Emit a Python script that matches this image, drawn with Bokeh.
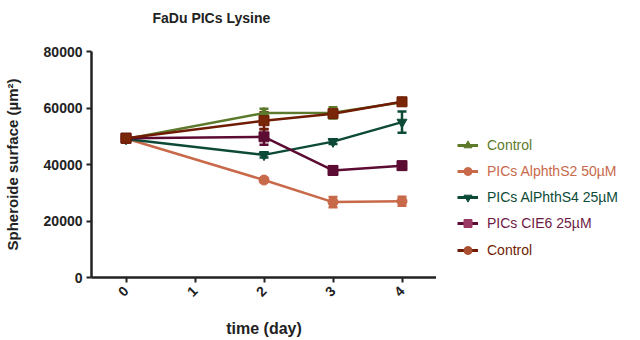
import math
from bokeh.plotting import figure
from bokeh.layouts import row, column
from bokeh.models import (ColumnDataSource, Range1d, FixedTicker, Whisker, TeeHead,
                          Legend, LegendItem, Label)
from bokeh.embed import file_html
from bokeh.resources import INLINE

# ---- data ----
days = [0, 2, 3, 4]
x_ticks = [0, 1, 2, 3, 4]
y_ticks = [0, 20000, 40000, 60000, 80000]

series_names = ["Control", "PICs AlphthS2 50\u00b5M", "PICs AlPhthS4 25\u00b5M",
                "PICs CIE6 25\u00b5M", "Control"]
control_a = [49000, 58200, 58300, 62000]
control_a_err = [800, 1500, 2000, 1000]
alphths2 = [49200, 34500, 26700, 27000]
alphths2_err = [600, 700, 1800, 1600]
alphths4 = [49000, 43400, 48100, 55000]
alphths4_err = [500, 900, 800, 3800]
cie6 = [49300, 49800, 37900, 39600]
cie6_err = [500, 2800, 1500, 1300]
control_b = [49300, 55500, 58000, 62200]
control_b_err = [800, 3000, 1000, 800]

values = [control_a, alphths2, alphths4, cie6, control_b]
errors = [control_a_err, alphths2_err, alphths4_err, cie6_err, control_b_err]

line_colors = ["#5d7a2c", "#c8694a", "#0c4a37", "#5c0c32", "#701c04"]
marker_fill = ["#5d7a2c", "#c8694a", "#0c4a37", "#5c0c32", "#7a2608"]
legend_fill = ["#5d7a2c", "#c8694a", "#0c4a37", "#9a3a62", "#a8502f"]
text_colors = ["#5d7a2c", "#c8694a", "#0c4a37", "#6e1a44", "#701c04"]
plot_markers = ["triangle", "circle", "inverted_triangle", "square", "square"]
legend_markers = ["triangle", "circle", "inverted_triangle", "square", "circle"]

FONT = "Liberation Sans"
TITLE_H = 34

# title strip
tf = figure(width=640, height=TITLE_H, output_backend="svg", toolbar_location=None,
            x_range=Range1d(0, 640), y_range=Range1d(0, TITLE_H),
            x_axis_type=None, y_axis_type=None,
            min_border_left=0, min_border_right=0, min_border_top=0,
            min_border_bottom=0)
tf.outline_line_color = None
tf.grid.visible = False
tf.add_layout(Label(x=152, y=TITLE_H - 17, text="FaDu PICs Lysine",
                    text_font=FONT, text_font_style="bold", text_font_size="14px",
                    text_color="#222222", text_baseline="middle",
                    text_align="left"))

p = figure(width=436, height=340 - TITLE_H, output_backend="svg",
           toolbar_location=None,
           x_range=Range1d(-0.5, 4.5), y_range=Range1d(0, 80000),
           min_border_left=91, min_border_right=0, min_border_top=51 - TITLE_H,
           min_border_bottom=61)
p.outline_line_color = None
p.grid.visible = False

for ax in (p.xaxis[0], p.yaxis[0]):
    ax.axis_line_width = 2.5
    ax.axis_line_color = "#222222"
    ax.major_tick_line_width = 2
    ax.major_tick_line_color = "#222222"
    ax.major_tick_out = 5
    ax.major_tick_in = 0
    ax.minor_tick_line_color = None
    ax.major_label_text_font = FONT
    ax.major_label_text_font_style = "bold"
    ax.major_label_text_font_size = "14px"
    ax.major_label_text_color = "#222222"
    ax.axis_label_text_font = FONT
    ax.axis_label_text_font_style = "bold"
    ax.axis_label_text_color = "#222222"

p.xaxis.axis_label_text_font_size = "16px"
p.yaxis.axis_label_text_font_size = "15px"
p.xaxis.ticker = FixedTicker(ticks=x_ticks)
p.yaxis.ticker = FixedTicker(ticks=y_ticks)
p.xaxis.major_label_orientation = math.pi / 4
p.xaxis.major_label_standoff = 6
p.yaxis.major_label_standoff = 4
p.xaxis.axis_label = "time (day)"
p.yaxis.axis_label = "Spheroide surface (\u00b5m\u00b2)"
p.xaxis.axis_label_standoff = 16
p.yaxis.axis_label_standoff = 20

# legend-only figure on the right
lf = figure(width=204, height=340 - TITLE_H, output_backend="svg",
            toolbar_location=None,
            x_range=Range1d(0, 1), y_range=Range1d(0, 1),
            x_axis_type=None, y_axis_type=None,
            min_border_left=0, min_border_right=0, min_border_top=0,
            min_border_bottom=0)
lf.outline_line_color = None
lf.grid.visible = False

nan = float("nan")
for i in range(5):
    src = ColumnDataSource(dict(x=days, y=values[i],
                                lo=[v - e for v, e in zip(values[i], errors[i])],
                                hi=[v + e for v, e in zip(values[i], errors[i])]))
    p.line("x", "y", source=src, line_color=line_colors[i], line_width=2.5)
    w = Whisker(base="x", lower="lo", upper="hi", source=src,
                line_color=line_colors[i], line_width=2.5,
                upper_head=TeeHead(size=9, line_color=line_colors[i], line_width=2.5),
                lower_head=TeeHead(size=9, line_color=line_colors[i], line_width=2.5))
    p.add_layout(w)
    p.scatter("x", "y", source=src, marker=plot_markers[i], size=10,
              fill_color=marker_fill[i], line_color=line_colors[i], line_width=1)

    dummy = ColumnDataSource(dict(x=[nan], y=[nan]))
    lr = lf.line("x", "y", source=dummy, line_color=line_colors[i], line_width=3)
    mr = lf.scatter("x", "y", source=dummy, marker=legend_markers[i], size=13,
                    fill_color=legend_fill[i], line_color=legend_fill[i])
    leg = Legend(items=[LegendItem(label=series_names[i], renderers=[lr, mr])],
                 location=(21, 122.2 - 26.2 * i), padding=0, margin=0,
                 spacing=0, glyph_width=21, glyph_height=20, label_height=20,
                 label_standoff=9, border_line_color=None,
                 background_fill_alpha=0,
                 label_text_font=FONT, label_text_font_size="14px",
                 label_text_color=text_colors[i])
    lf.add_layout(leg, "center")

layout = column(tf, row(p, lf))
open("out.html", "w").write(file_html(layout, INLINE))
